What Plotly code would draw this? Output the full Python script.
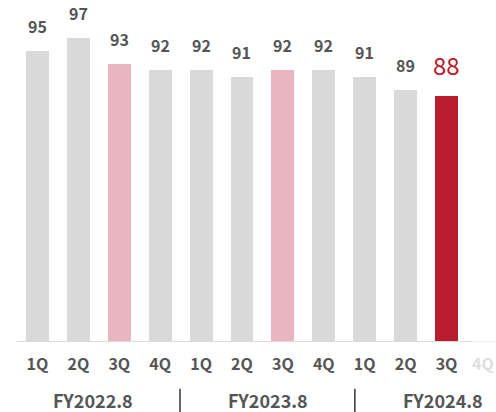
import plotly.graph_objects as go

quarters = ["1Q", "2Q", "3Q", "4Q", "1Q", "2Q", "3Q", "4Q", "1Q", "2Q", "3Q", "4Q"]
values = [95, 97, 93, 92, 92, 91, 92, 92, 91, 89, 88, None]
fiscal_years = ["FY2022.8", "FY2023.8", "FY2024.8"]

GRAY = "#d9d9d9"
PINK = "#e8b5c0"
RED = "#b81c2d"
TXT = "#555555"
FONT = "Noto Sans CJK JP"

colors = []
for i, v in enumerate(values):
    if i == 10:
        colors.append(RED)
    elif quarters[i] == "3Q":
        colors.append(PINK)
    else:
        colors.append(GRAY)

xs = list(range(len(quarters)))
bar_x = [x for x, v in zip(xs, values) if v is not None]
bar_y = [v for v in values if v is not None]

fig = go.Figure()
fig.add_trace(go.Bar(
    x=bar_x, y=bar_y, base=0,
    marker=dict(color=colors[:len(bar_x)], line=dict(width=0)),
    width=0.56, hoverinfo="skip",
))

for i, v in enumerate(values):
    if v is None:
        continue
    last = i == 10
    fig.add_annotation(
        x=i, y=v, xref="x", yref="y", text=str(v) if last else f"<b>{v}</b>",
        showarrow=False, yanchor="middle", yshift=32 if last else 25,
        font=dict(family=FONT, size=24 if last else 16, color=RED if last else TXT),
    )

# future quarter label (no data), faint, kept inside the page edge
for i, v in enumerate(values):
    if v is None:
        fig.add_annotation(
            x=1.0, y=-0.062, xref="paper", yref="paper", text=f"<b>{quarters[i]}</b>",
            showarrow=False, yanchor="middle", xanchor="right",
            font=dict(family=FONT, size=16, color="#dedede"),
        )

# fiscal year group labels
fy_x = [1.346, 5.637, 9.916]
for fy, xx in zip(fiscal_years, fy_x):
    fig.add_annotation(
        x=xx, y=-0.171, xref="x", yref="paper", text=f"<b>{fy}</b>",
        showarrow=False, yanchor="middle", xanchor="center",
        font=dict(family=FONT, size=18, color=TXT),
    )

# separators
for sx in [3.485, 7.76]:
    fig.add_shape(type="line", xref="x", yref="paper", x0=sx, x1=sx,
                  y0=-0.137, y1=-0.21, line=dict(color="#333333", width=1.5))

# baseline
fig.add_shape(type="line", xref="x", yref="y", x0=-0.5, x1=10.6, y0=50, y1=50,
              line=dict(color="#dcdcdc", width=2), layer="above")
fig.add_shape(type="line", xref="x", yref="y", x0=10.6, x1=11.3, y0=50, y1=50,
              line=dict(color="#f2f2f2", width=2), layer="above")

tick_vals = [x for x, v in zip(xs, values) if v is not None]
tick_text = [quarters[x] for x in tick_vals]

fig.update_layout(
    width=496, height=412,
    margin=dict(l=17, r=0, t=0, b=70),
    plot_bgcolor="white", paper_bgcolor="white",
    showlegend=False,
    bargap=0,
    xaxis=dict(
        range=[-0.5, 11.21], tickmode="array", tickvals=tick_vals, ticktext=tick_text,
        showgrid=False, zeroline=False, showline=False, ticks="",
        tickfont=dict(family=FONT, size=16, color=TXT, weight="bold"),
        ticklabelstandoff=11,
        fixedrange=True,
    ),
    yaxis=dict(
        range=[50, 102.86], visible=False, showgrid=False, zeroline=False,
        fixedrange=True,
    ),
)

fig.write_html("out.html")
